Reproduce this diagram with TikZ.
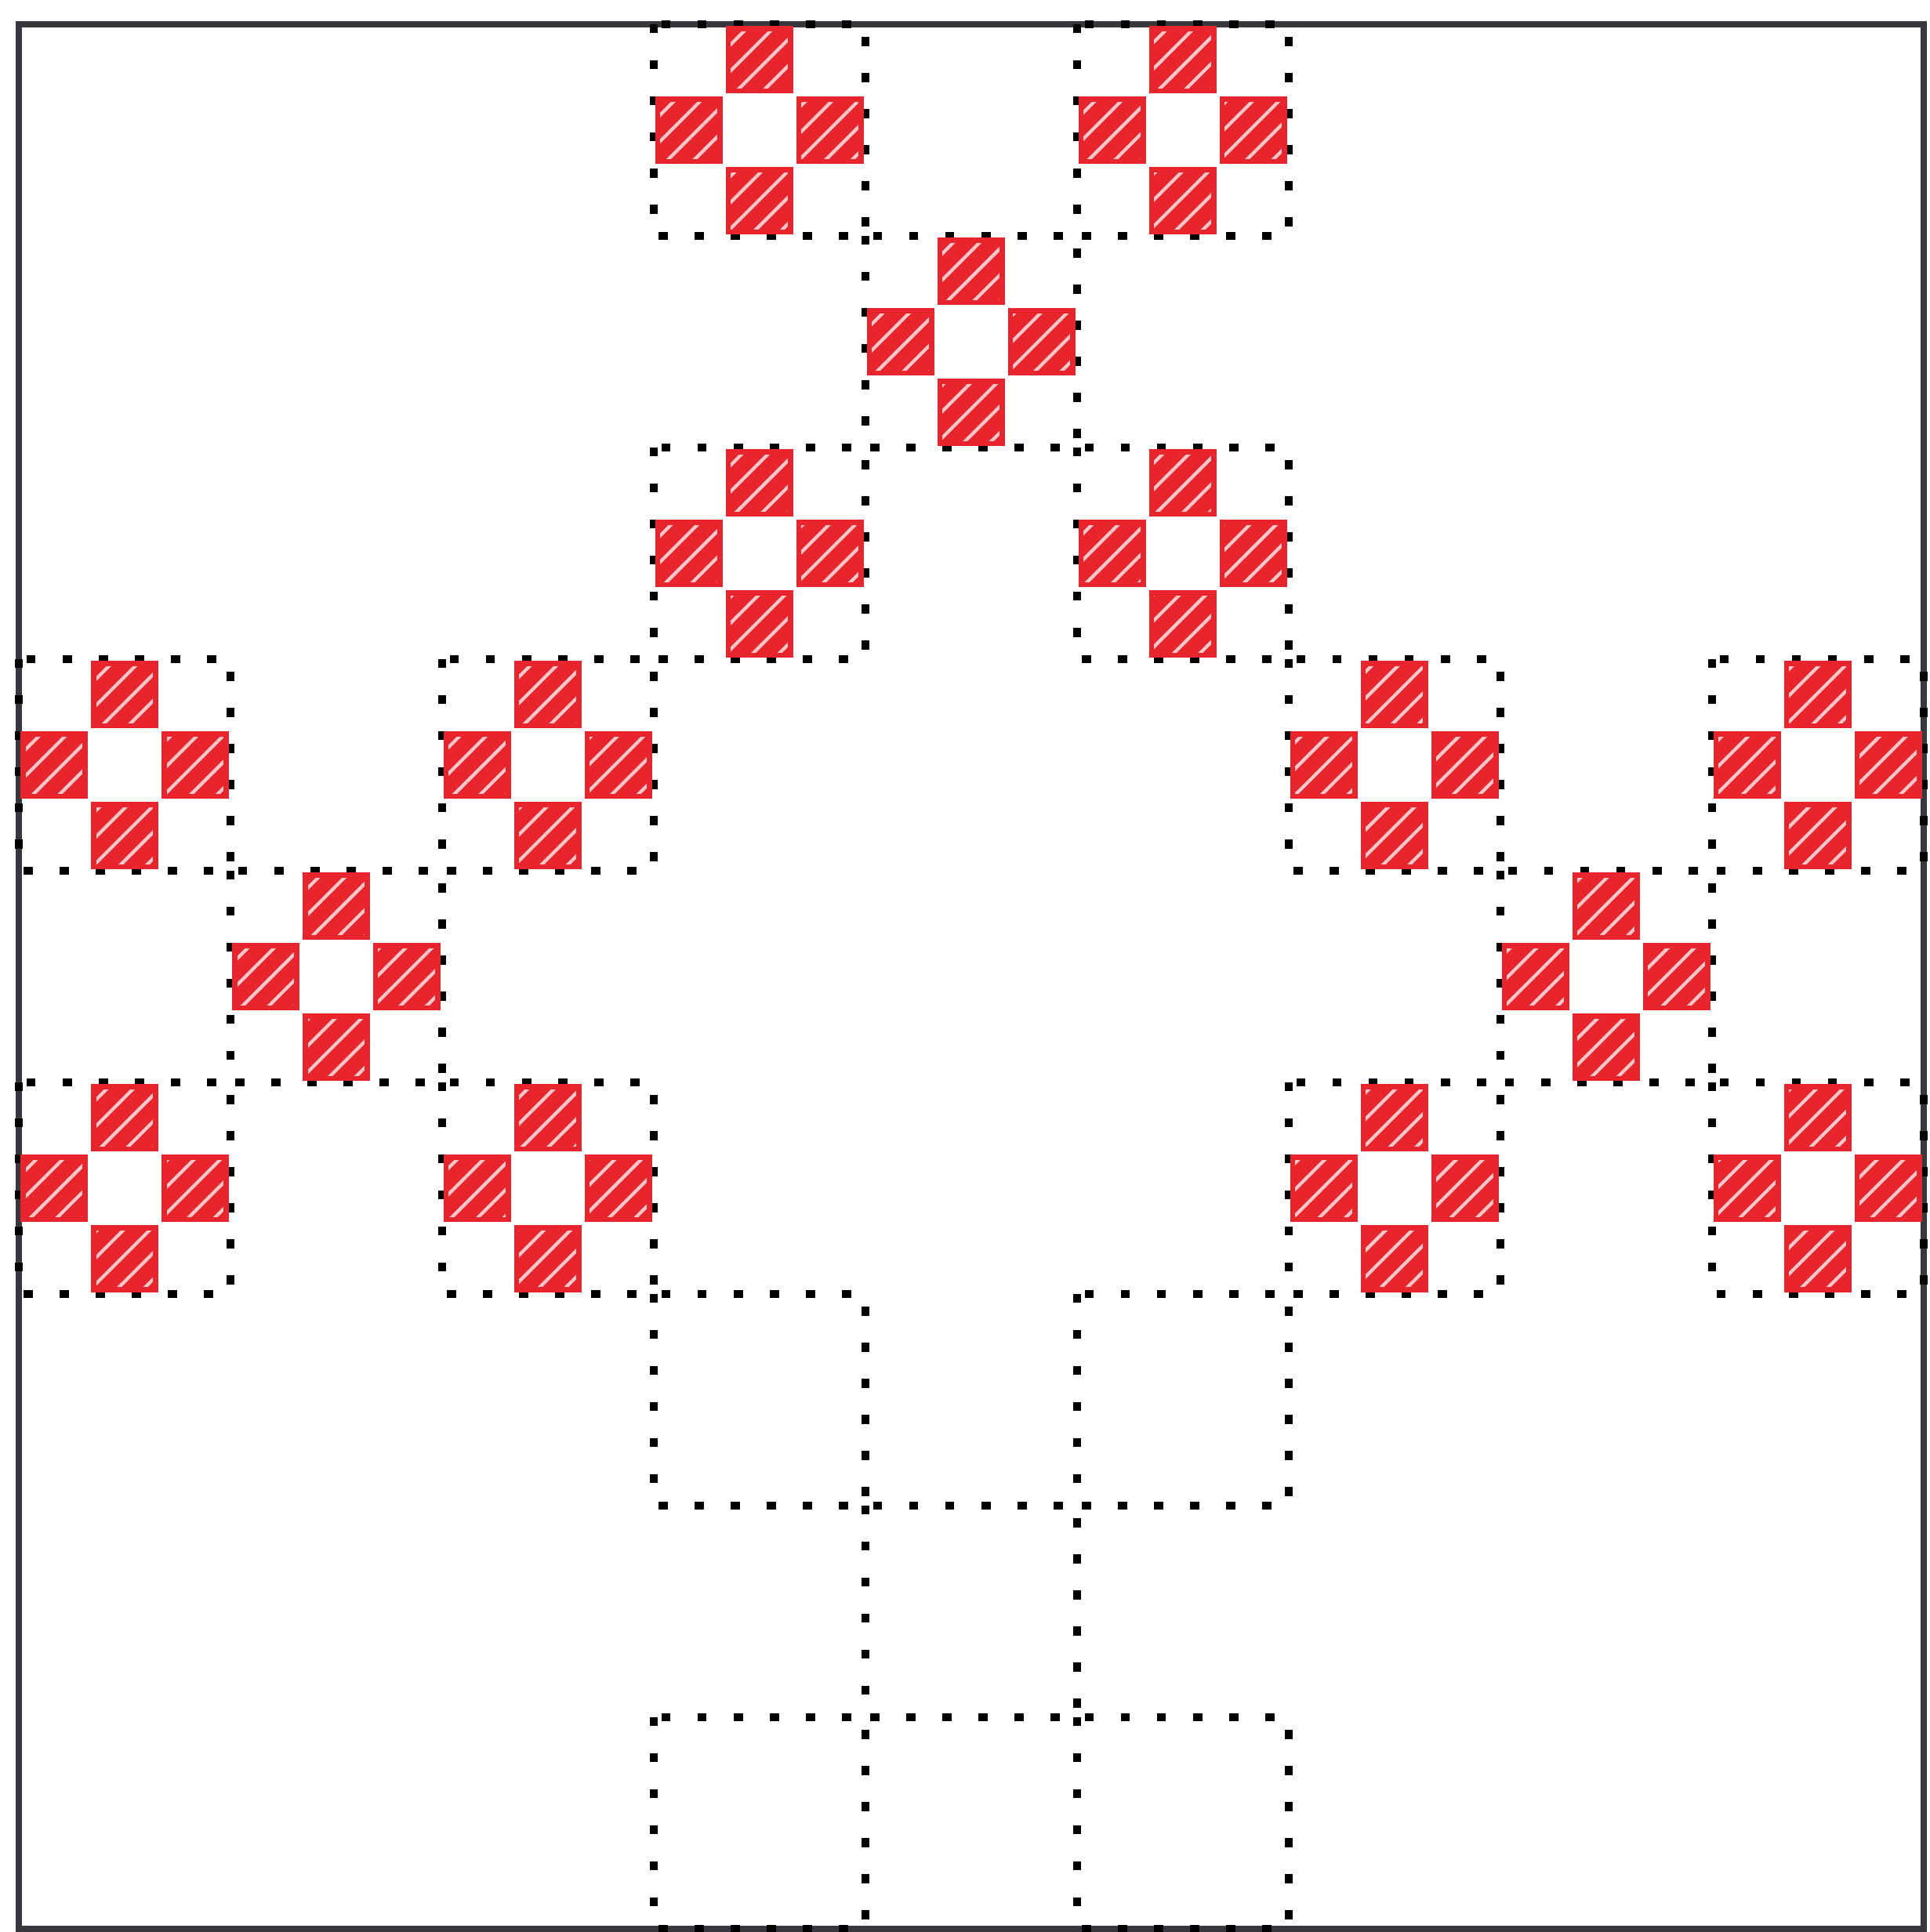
\documentclass[tikz,border=0pt]{standalone}
\usepackage{tikz}
\usetikzlibrary{patterns.meta}
\definecolor{penred}{RGB}{232,36,44}
\definecolor{pengray}{RGB}{55,55,62}

\begin{document}
\begin{tikzpicture}[x=2cm,y=2cm,
  frame/.style={draw=pengray,line width=1.8pt},
  cellbox/.style={draw=black,line width=2.1pt,dash pattern=on 2.4pt off 7.3pt},
  redsq/.style={draw=penred,line width=1.3pt,preaction={fill=penred},
    pattern={Lines[angle=45,distance=5pt,line width=0.9pt]},
    pattern color=penred!25}]
 \useasboundingbox (-0.089,-0.015) rectangle (9.03,9.115);
 \draw[frame] (0,0) rectangle (9,9);
 % dotted cells (column/row counted from the top left)
 \foreach \c/\r in {3/0,5/0,4/1,3/2,5/2, 0/3,2/3,1/4,0/5,2/5,
                    6/3,8/3,7/4,6/5,8/5, 3/6,5/6,4/7,3/8,5/8}
   \draw[cellbox] (\c,9-\r) rectangle ++(1,-1);
 % red crosses
 \foreach \c/\r in {3/0,5/0,4/1,3/2,5/2, 0/3,2/3,1/4,0/5,2/5,
                    6/3,8/3,7/4,6/5,8/5}
   \foreach \dx/\dy in {1/2,0/1,2/1,1/0}
     \draw[redsq] ({\c+\dx/3+0.02},{8-\r+\dy/3+0.02}) rectangle ++(0.293,0.293);
\end{tikzpicture}
\end{document}
